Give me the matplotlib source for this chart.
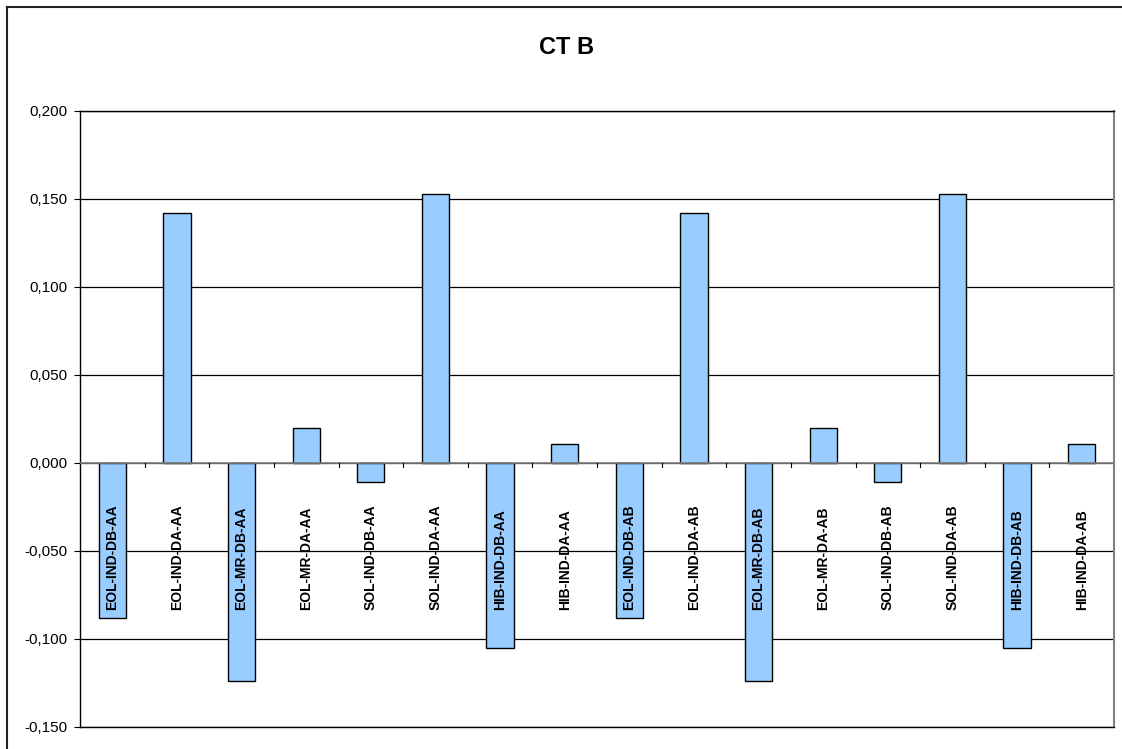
import numpy as np
import matplotlib
matplotlib.use("Agg")
import matplotlib.pyplot as plt
from matplotlib.lines import Line2D

plt.rcParams['font.family'] = ['Liberation Sans', 'DejaVu Sans']

# series values per scenario
categories = ['EOL-IND-DB-AA', 'EOL-IND-DA-AA', 'EOL-MR-DB-AA', 'EOL-MR-DA-AA',
              'SOL-IND-DB-AA', 'SOL-IND-DA-AA', 'HIB-IND-DB-AA', 'HIB-IND-DA-AA',
              'EOL-IND-DB-AB', 'EOL-IND-DA-AB', 'EOL-MR-DB-AB', 'EOL-MR-DA-AB',
              'SOL-IND-DB-AB', 'SOL-IND-DA-AB', 'HIB-IND-DB-AB', 'HIB-IND-DA-AB']
values = [-0.088, 0.142, -0.124, 0.020, -0.011, 0.153, -0.105, 0.011,
          -0.088, 0.142, -0.124, 0.020, -0.011, 0.153, -0.105, 0.011]
yticks = [-0.150, -0.100, -0.050, 0.000, 0.050, 0.100, 0.150, 0.200]
title = 'CT B'

W, H = 1122, 749
fig = plt.figure(figsize=(W / 100, H / 100), dpi=100)

# chart frame: top and left edges
fx, fy = 6.5 / W, 1 - 6.5 / H
fig.lines.append(Line2D([fx, 1.0], [fy, fy], transform=fig.transFigure,
                        color='#222222', linewidth=1.5))
fig.lines.append(Line2D([fx, fx], [0.0, fy], transform=fig.transFigure,
                        color='#222222', linewidth=1.5))

ax = fig.add_axes([80 / W, 1 - 727 / H, (1114 - 80) / W, (727 - 111) / H])

x = np.arange(len(categories))
ax.bar(x, values, width=0.42, color='#99CCFF', edgecolor='black',
       linewidth=1.0, zorder=3)

ax.set_xlim(-0.5, len(categories) - 0.5)
ax.set_ylim(yticks[0], yticks[-1])
ax.set_yticks(yticks)
ax.set_yticklabels([f'{v:.3f}'.replace('.', ',') for v in yticks], fontsize=11)
ax.tick_params(axis='y', length=4, width=0.8, pad=5)

# gridlines
for v in yticks:
    ax.axhline(v, color='black', linewidth=0.9, zorder=1)

# category axis sits at zero, ticks between categories
ax.set_xticks([])
ax.axhline(0, color='#808080', linewidth=1.2, zorder=4)
for b in np.arange(0.5, len(categories) - 0.5, 1.0):
    ax.plot([b, b], [0, -0.0025], color='black', linewidth=0.8, zorder=4,
            clip_on=False)

for xi, name in zip(x, categories):
    ax.text(xi, -0.0835, name, rotation=90, ha='center', va='bottom',
            fontsize=10, fontweight='bold', zorder=5)

for side in ['left', 'bottom', 'top']:
    ax.spines[side].set_color('black')
    ax.spines[side].set_linewidth(1.0)
ax.spines['right'].set_color('#808080')
ax.spines['right'].set_linewidth(1.5)

fig.text(567 / W, 1 - 47 / H, title, ha='center', va='center',
         fontsize=17, fontweight='bold')

fig.savefig('out.png', dpi=100, facecolor='white')
